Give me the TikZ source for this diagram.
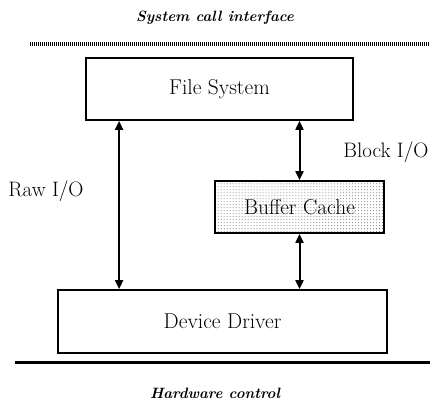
\documentclass[tikz,border=0pt]{standalone}
\usepackage{tikz}
\usetikzlibrary{arrows.meta}
\usetikzlibrary{patterns}
\usetikzlibrary{positioning}

\begin{document}
\begin{tikzpicture}[x=1bp,y=-1bp,
  layer/.style={draw,line width=1.8bp,inner sep=0pt,font=\fontsize{21.5}{25}\selectfont},
  iface/.style={font=\fontsize{15}{18}\selectfont\bfseries\itshape},
  side/.style={font=\fontsize{21}{25}\selectfont},
  biarrow/.style={{Triangle[length=9bp,width=8bp]}-{Triangle[length=9bp,width=8bp]},line width=2bp}]
  \useasboundingbox (0,0) rectangle (430,402);
  %interfaces
  \node[iface] (sci) at (215,18) {System call interface};
  \node[iface] (hwc) at (215,393) {Hardware control};
  \draw[line width=3.5bp,dash pattern=on 1.2bp off 0.8bp] (30,44) coordinate (topl) -- (430,44) coordinate (topr);
  \draw[line width=3bp] (15,362) coordinate (botl) -- (430,362) coordinate (botr);
  %layers
  \node[layer,minimum width=267bp,minimum height=62bp] (fs) at (219.5,89) {File System};
  \node[layer,minimum width=169bp,minimum height=52bp,pattern=dots,pattern color=black!60] (bc) at (299.5,207) {Buffer Cache};
  \node[layer,minimum width=329bp,minimum height=63bp] (dd) at (222.5,321.5) {Device Driver};
  %raw path
  \coordinate (raw) at ([xshift=34bp]fs.south west);
  \draw[biarrow] (raw) -- (raw |- dd.north);
  \node[side] (rawlab) at (46,191) {Raw I/O};
  %block path
  \draw[biarrow] (fs.south -| bc.north) -- (bc.north);
  \draw[biarrow] (bc.south) -- (dd.north -| bc.south);
  \node[side] (blklab) at (386,152) {Block I/O};
\end{tikzpicture}
\end{document}
